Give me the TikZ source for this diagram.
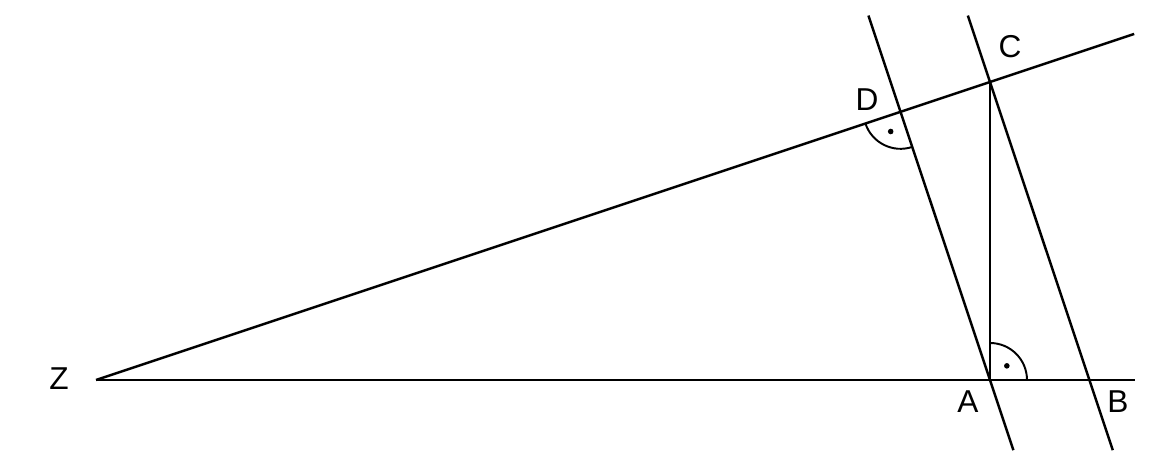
\documentclass[tikz,border=0pt]{standalone}
\usepackage{fontspec}
\setmainfont{Liberation Sans}
\usetikzlibrary{calc}
\begin{document}
\begin{tikzpicture}[
        line width=0.7pt,
        lbl/.style={inner sep=0pt, font=\fontsize{9}{11}\selectfont},
        rmark/.style={line width=0.55pt}
    ]
            \def \xz        {0.96};
            \def \xa        {9.90};
            \def \ybase     {0.88};
            \def \yc        {3.86};
            \def \ang       {18.44}; % angle at Z
            \def \rarc      {0.37};
            \def \rdot      {0.22};

            \useasboundingbox (0,0) rectangle (11.6,4.68);

% points
            \coordinate (Z) at (\xz, \ybase);
            \coordinate (A) at (\xa, \ybase);
            \coordinate (C) at (\xa, \yc);
            \coordinate (D) at ($(Z)!(A)!(C)$);
            \coordinate (Cdir) at ($(C)+(A)-(D)$);
            \coordinate (B) at (intersection of Z--A and C--Cdir);

% free ends
            \coordinate (Aend) at ($(A)+(1.45,0)$);
            \coordinate (Cend) at ($(C)!-1.52cm!(Z)$);
            \coordinate (Dtop) at ($(D)!-1.015cm!(A)$);
            \coordinate (Abot) at ($(A)!-0.74cm!(D)$);
            \coordinate (Ctop) at ($(C)!-0.70cm!(B)$);
            \coordinate (Bbot) at ($(B)!-0.74cm!(C)$);

% lines
            \draw (Z) -- (Aend);
            \draw (Z) -- (Cend);
            \draw (C) -- (A);
            \draw (Dtop) -- (Abot);
            \draw (Ctop) -- (Bbot);

% right angles
            \draw [rmark] ($(A)+(0:\rarc)$) arc (0:90:\rarc);
            \fill ($(A)+(40:\rdot)$) circle (0.028);
            \draw [rmark] ($(D)+(180+\ang:\rarc)$) arc (180+\ang:270+\ang:\rarc);
            \fill ($(D)+(225+\ang:\rdot)$) circle (0.028);

% labels
            \node [lbl] (lZ) at (0.59, 0.89) {Z};
            \node [lbl] (lA) at (9.68, 0.66) {A};
            \node [lbl] (lB) at (11.18, 0.66) {B};
            \node [lbl] (lC) at (10.10, 4.21) {C};
            \node [lbl] (lD) at (8.67, 3.68) {D};
\end{tikzpicture}
\end{document}
